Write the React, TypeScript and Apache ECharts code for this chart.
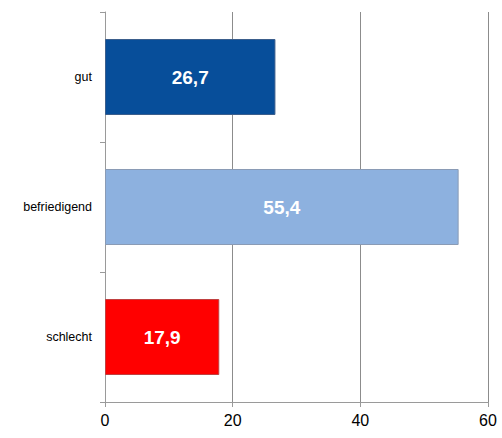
import React, { useEffect, useRef } from "react";
import * as echarts from "echarts";

const categories = ["gut", "befriedigend", "schlecht"];
const values = [26.7, 55.4, 17.9];
const barColors = ["#074E9A", "#8DB1DF", "#FF0000"];
const borderColors = ["#3B5E8C", "#8A9BB5", "#C04040"];
const xTicks = { min: 0, max: 60, interval: 20 };

export default function App() {
  const ref = useRef<HTMLDivElement>(null);
  useEffect(() => {
    const chart = echarts.init(ref.current!, null, { renderer: "svg" });
    chart.setOption({
      animation: false,
      grid: { left: 105, top: 12, right: 14, bottom: 36, containLabel: false },
      xAxis: {
        type: "value",
        min: xTicks.min,
        max: xTicks.max,
        interval: xTicks.interval,
        axisLine: { show: true, lineStyle: { color: "#9a9a9a", width: 1 } },
        axisTick: { show: true, length: 5, lineStyle: { color: "#9a9a9a" } },
        splitLine: { show: true, lineStyle: { color: "#8c8c8c", width: 1 } },
        axisLabel: {
          color: "#000",
          fontSize: 16,
          fontFamily: "Liberation Sans, Arial, sans-serif",
          margin: 10,
        },
      },
      yAxis: {
        type: "category",
        data: categories,
        inverse: true,
        axisLine: { show: true, lineStyle: { color: "#9a9a9a", width: 1 } },
        axisTick: { show: true, length: 5, alignWithLabel: false, lineStyle: { color: "#9a9a9a" } },
        splitLine: { show: false },
        axisLabel: {
          color: "#000",
          fontSize: 12.5,
          fontFamily: "Liberation Sans, Arial, sans-serif",
          margin: 13,
        },
      },
      series: [
        {
          type: "bar",
          barWidth: 76,
          data: values.map((v, i) => ({
            value: v,
            itemStyle: { color: barColors[i], borderColor: borderColors[i], borderWidth: 1 },
          })),
          label: {
            show: true,
            position: "inside",
            color: "#fff",
            fontWeight: "bold",
            fontSize: 19,
            fontFamily: "Liberation Sans, Arial, sans-serif",
            formatter: (p: any) => String(p.value).replace(".", ","),
          },
        },
      ],
    });
    return () => chart.dispose();
  }, []);
  return (
    <div
      ref={ref}
      style={{ position: "fixed", left: 0, top: 0, width: 502, height: 438, background: "#fff" }}
    />
  );
}
